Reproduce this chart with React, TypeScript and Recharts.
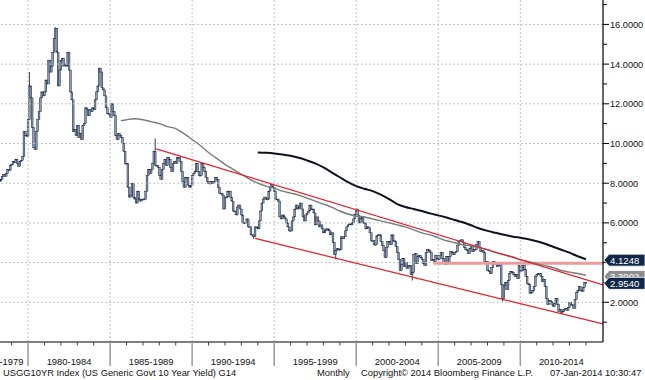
import React from 'react';
import { ComposedChart, Bar, Line, XAxis, YAxis, ReferenceLine } from 'recharts';

const FONT = '"Liberation Sans", Arial, sans-serif';

// ---- monthly closes of the 10Y yield (first year starts in May 1978) ----
const firstYear = 1978;
const firstMonth = 4; // May (0-based)
const firstOpen = 8.1;
const closesByYear: number[][] = [
  [8.2, 8.35, 8.45, 8.35, 8.5, 8.7, 8.65, 8.9],
  [8.95, 9.1, 9.05, 9.2, 9.0, 8.85, 9.1, 9.15, 9.35, 10.6, 10.4, 10.35],
  [11.2, 12.9, 12.3, 10.8, 9.8, 9.7, 10.6, 11.2, 11.6, 12.3, 12.6, 12.4],
  [12.6, 13.2, 13.0, 14.2, 13.6, 13.9, 14.6, 15.3, 15.8, 14.6, 12.9, 13.7],
  [14.2, 14.3, 13.9, 14.0, 13.9, 14.6, 13.7, 12.6, 12.2, 10.6, 10.7, 10.4],
  [10.9, 10.3, 10.5, 10.2, 10.9, 11.0, 11.8, 11.7, 11.4, 11.7, 11.6, 11.8],
  [11.7, 12.2, 12.6, 12.9, 13.8, 13.6, 12.8, 12.7, 12.4, 11.8, 11.5, 11.5],
  [11.3, 12.0, 11.6, 11.4, 10.4, 10.2, 10.5, 10.4, 10.3, 10.0, 9.6, 9.0],
  [9.0, 7.8, 7.3, 7.4, 8.0, 7.3, 7.2, 7.0, 7.6, 7.2, 7.1, 7.2],
  [7.2, 7.2, 7.6, 8.4, 8.7, 8.5, 8.7, 9.0, 9.6, 8.9, 8.9, 8.8],
  [8.4, 8.2, 8.7, 9.0, 9.2, 8.9, 9.3, 9.2, 8.8, 8.6, 9.0, 9.1],
  [9.0, 9.3, 9.3, 9.1, 8.6, 8.1, 7.8, 8.3, 8.3, 7.9, 7.8, 7.9],
  [8.4, 8.5, 8.6, 9.0, 8.6, 8.4, 8.4, 9.0, 8.8, 8.6, 8.3, 8.1],
  [8.0, 8.0, 8.1, 8.0, 8.1, 8.3, 8.2, 7.8, 7.5, 7.5, 7.4, 6.7],
  [7.3, 7.3, 7.6, 7.6, 7.3, 7.1, 6.6, 6.6, 6.4, 6.8, 6.9, 6.7],
  [6.4, 6.0, 6.0, 6.0, 6.2, 5.8, 5.8, 5.4, 5.4, 5.3, 5.8, 5.8],
  [5.7, 6.1, 6.6, 7.0, 7.2, 7.3, 7.2, 7.2, 7.6, 7.8, 7.95, 7.8],
  [7.6, 7.2, 7.2, 7.1, 6.3, 6.2, 6.4, 6.3, 6.2, 6.0, 5.8, 5.6],
  [5.6, 6.1, 6.3, 6.7, 6.9, 6.7, 6.8, 7.0, 6.7, 6.3, 6.1, 6.4],
  [6.5, 6.6, 6.9, 6.7, 6.7, 6.5, 5.9, 6.3, 6.1, 5.8, 5.9, 5.7],
  [5.5, 5.6, 5.7, 5.7, 5.6, 5.4, 5.5, 5.0, 4.4, 4.6, 4.7, 4.65],
  [4.65, 5.3, 5.2, 5.3, 5.6, 5.8, 5.9, 5.95, 5.9, 6.0, 6.2, 6.45],
  [6.7, 6.4, 6.0, 6.2, 6.3, 6.0, 6.0, 5.7, 5.8, 5.75, 5.5, 5.1],
  [5.1, 4.9, 4.9, 5.35, 5.4, 5.4, 5.05, 4.85, 4.6, 4.25, 4.75, 5.05],
  [5.05, 4.9, 5.4, 5.1, 5.05, 4.8, 4.5, 4.15, 3.6, 3.9, 4.2, 3.8],
  [4.0, 3.7, 3.8, 3.85, 3.4, 3.5, 4.4, 4.45, 3.95, 4.3, 4.35, 4.25],
  [4.15, 3.95, 3.85, 4.5, 4.65, 4.6, 4.5, 4.1, 4.15, 4.05, 4.35, 4.2],
  [4.15, 4.35, 4.5, 4.2, 4.0, 3.9, 4.3, 4.0, 4.3, 4.55, 4.5, 4.4],
  [4.5, 4.55, 4.85, 5.05, 5.1, 5.15, 5.0, 4.75, 4.65, 4.6, 4.45, 4.7],
  [4.85, 4.55, 4.65, 4.65, 4.9, 5.05, 4.75, 4.55, 4.6, 4.5, 3.95, 4.05],
  [3.6, 3.55, 3.45, 3.75, 4.05, 3.95, 3.95, 3.8, 3.85, 4.0, 2.9, 2.2],
  [2.85, 3.0, 2.65, 3.1, 3.45, 3.55, 3.5, 3.4, 3.3, 3.4, 3.2, 3.85],
  [3.6, 3.6, 3.85, 3.65, 3.3, 2.95, 2.9, 2.45, 2.5, 2.6, 2.8, 3.3],
  [3.4, 3.45, 3.45, 3.3, 3.05, 3.15, 2.8, 2.2, 1.9, 2.1, 2.05, 1.9],
  [1.8, 1.95, 2.2, 1.9, 1.55, 1.65, 1.5, 1.55, 1.65, 1.7, 1.6, 1.75],
  [2.0, 1.9, 1.85, 1.7, 2.15, 2.5, 2.6, 2.8, 2.6, 2.55, 2.75, 3.0],
  [2.954],
];

// intramonth extremes (wicks) visible in the picture
const spikeMonths = ['1980-02', '1981-09', '1987-10', '1993-10', '1998-10', '2003-06', '2008-12', '2012-07'];
const spikeValues = [13.6, 15.85, 10.25, 5.2, 4.16, 3.1, 2.05, 1.4];

// moving averages (100-month grey, 200-month black)
const ma100Times = [1985.65, 1986, 1986.5, 1987, 1987.5, 1988, 1988.5, 1989, 1989.5, 1990, 1990.5, 1991, 1991.5, 1992, 1992.5, 1993, 1993.5, 1994, 1994.5, 1995, 1995.5, 1996, 1996.5, 1997, 1997.5, 1998, 1998.5, 1999, 1999.5, 2000, 2000.5, 2001, 2001.5, 2002, 2002.5, 2003, 2003.5, 2004, 2004.5, 2005, 2005.5, 2006, 2006.5, 2007, 2007.5, 2008, 2008.5, 2009, 2009.5, 2010, 2010.5, 2011, 2011.5, 2012, 2012.5, 2013, 2013.5, 2014];
const ma100Values = [11.15, 11.2, 11.25, 11.2, 11.1, 11.0, 10.85, 10.75, 10.5, 10.2, 9.9, 9.55, 9.25, 8.95, 8.7, 8.45, 8.2, 8.0, 7.85, 7.75, 7.6, 7.5, 7.4, 7.25, 7.1, 6.95, 6.8, 6.6, 6.45, 6.35, 6.3, 6.2, 6.1, 6.0, 5.9, 5.8, 5.65, 5.5, 5.4, 5.25, 5.1, 5.0, 4.9, 4.85, 4.75, 4.65, 4.5, 4.4, 4.3, 4.15, 4.05, 3.95, 3.85, 3.75, 3.6, 3.52, 3.45, 3.36];
const ma200Times = [1994, 1994.5, 1995, 1995.5, 1996, 1996.5, 1997, 1997.5, 1998, 1998.5, 1999, 1999.5, 2000, 2000.5, 2001, 2001.5, 2002, 2002.5, 2003, 2003.5, 2004, 2004.5, 2005, 2005.5, 2006, 2006.5, 2007, 2007.5, 2008, 2008.5, 2009, 2009.5, 2010, 2010.5, 2011, 2011.5, 2012, 2012.5, 2013, 2013.5, 2014];
const ma200Values = [9.55, 9.53, 9.5, 9.45, 9.38, 9.28, 9.15, 9.0, 8.8, 8.55, 8.3, 8.05, 7.85, 7.72, 7.6, 7.42, 7.2, 6.95, 6.8, 6.7, 6.6, 6.48, 6.38, 6.27, 6.15, 6.03, 5.88, 5.72, 5.6, 5.5, 5.4, 5.32, 5.25, 5.18, 5.08, 4.95, 4.8, 4.65, 4.5, 4.32, 4.17];

// drawn trend lines (start/end in years and yield)
const upperTrend = [{ t: 1987.81, v: 9.73 }, { t: 2015.04, v: 2.88 }];
const lowerTrend = [{ t: 1993.84, v: 5.22 }, { t: 2015.04, v: 0.91 }];
const levelLine = [{ t: 2004.7, v: 3.97 }, { t: 2015.04, v: 3.97 }];

// axes
const xDomain = [1978.29, 2015.04];
const yDomain = [0, 17.23];
const spanStarts = [1975, 1980, 1985, 1990, 1995, 2000, 2005, 2010];
const spanLabels = ['1975-1979', '1980-1984', '1985-1989', '1990-1994', '1995-1999', '2000-2004', '2005-2009', '2010-2014'];
const yearTicks = [1979, 1980, 1981, 1982, 1983, 1984, 1985, 1986, 1987, 1988, 1989, 1990, 1991, 1992, 1993, 1994, 1995, 1996, 1997, 1998, 1999, 2000, 2001, 2002, 2003, 2004, 2005, 2006, 2007, 2008, 2009, 2010, 2011, 2012, 2013, 2014];
const gridYears = [1980, 1985, 1990, 1995, 2000, 2005, 2010];
const yTickValues = [1, 2, 3, 4, 5, 6, 7, 8, 9, 10, 11, 12, 13, 14, 15, 16, 17];
const gridValues = [2, 4, 6, 8, 10, 12, 14, 16];
const tagValues = [3.3002, 4.1248, 2.954];
const tagTexts = ['3.3002', '4.1248', '2.9540'];
const tagFills = ['#8e8e8e', '#0f2748', '#0f2748'];

// ---- build rows ----
const rows: any[] = [];
let prev = firstOpen;
closesByYear.forEach((arr, yi) => {
  const year = firstYear + yi;
  arr.forEach((c, mi) => {
    const m = yi === 0 ? firstMonth + mi : mi;
    const key = `${year}-${String(m + 1).padStart(2, '0')}`;
    const si = spikeMonths.indexOf(key);
    let lo = Math.min(prev, c);
    let hi = Math.max(prev, c);
    if (si >= 0) {
      lo = Math.min(lo, spikeValues[si]);
      hi = Math.max(hi, spikeValues[si]);
    }
    rows.push({ t: year + m / 12, open: prev, close: c, range: [lo, hi] });
    prev = c;
  });
});

const ma100 = ma100Times.map((t, i) => ({ t, v: ma100Values[i] }));
const ma200 = ma200Times.map((t, i) => ({ t, v: ma200Values[i] }));

const labelCenters = spanStarts.map((s) => Math.max(s + 2.5, xDomain[0] + 0.06));
const xTicks = [...yearTicks, ...labelCenters];

function Candle(props: any) {
  let { x, y, width, height, payload } = props;
  if (height < 0) {
    y = y + height;
    height = -height;
  }
  const [lo, hi] = payload.range;
  const k = hi > lo ? height / (hi - lo) : 0;
  const bTop = y + (hi - Math.max(payload.open, payload.close)) * k;
  const bBot = y + (hi - Math.min(payload.open, payload.close)) * k;
  const cx = x + width / 2;
  return (
    <g>
      <line x1={cx} x2={cx} y1={y} y2={y + height} stroke="#15223a" strokeWidth={0.9} />
      <rect x={cx - 0.9} y={bTop} width={1.8} height={Math.max(bBot - bTop, 0.8)} fill="#8a99b0" stroke="#15223a" strokeWidth={0.45} />
    </g>
  );
}

function XTick(props: any) {
  const { x, y, payload } = props;
  const v = payload.value;
  if (Number.isInteger(v)) {
    if (v % 5 === 0) {
      return <line x1={x} x2={x} y1={y} y2={y + 24} stroke="#9a9a9a" strokeWidth={1.5} />;
    }
    return <line x1={x} x2={x} y1={y} y2={y + 3.5} stroke="#444" strokeWidth={1} />;
  }
  const i = labelCenters.findIndex((c) => Math.abs(c - v) < 1e-6);
  if (i < 0) return null;
  return (
    <text x={x} y={y + 23} textAnchor="middle" fontFamily={FONT} fontSize={9.4} fill="#111">
      {spanLabels[i]}
    </text>
  );
}

function YTick(props: any) {
  const { x, y, payload } = props;
  const v = payload.value;
  const ti = tagValues.indexOf(v);
  if (ti >= 0) {
    const h = 12;
    return (
      <g>
        <polygon
          points={`${x + 1},${y} ${x + 6},${y - h / 2} ${x + 42},${y - h / 2} ${x + 42},${y + h / 2} ${x + 6},${y + h / 2}`}
          fill={tagFills[ti]}
          stroke="#ffffff"
          strokeWidth={0.8}
        />
        <text x={x + 7} y={y + 3.5} fontFamily={FONT} fontSize={9.6} fill="#ffffff">
          {tagTexts[ti]}
        </text>
      </g>
    );
  }
  const major = v % 2 === 0;
  return (
    <g>
      <line x1={x} x2={x + (major ? 6 : 4)} y1={y} y2={y} stroke="#000" strokeWidth={1} />
      {major && v !== 4 ? (
        <text x={x + 7} y={y + 3.4} fontFamily={FONT} fontSize={9.2} fill="#111">
          {v.toFixed(4)}
        </text>
      ) : null}
    </g>
  );
}

const footStyle: React.CSSProperties = { position: 'absolute', top: 368, fontSize: 9.35, color: '#111', whiteSpace: 'nowrap', lineHeight: '11px' };

export default function App() {
  return (
    <div style={{ position: 'absolute', left: 0, top: 0, width: 645, height: 380, background: '#fff', fontFamily: FONT, overflow: 'hidden' }}>
      <ComposedChart width={645} height={380} data={rows} margin={{ top: 0, right: 0, bottom: 0, left: 0 }}>
        <XAxis
          type="number"
          dataKey="t"
          domain={xDomain}
          allowDataOverflow
          ticks={xTicks}
          interval={0}
          tick={<XTick />}
          tickLine={false}
          tickSize={0}
          tickMargin={0}
          axisLine={{ stroke: '#000', strokeWidth: 1 }}
          height={38}
        />
        <YAxis
          orientation="right"
          type="number"
          domain={yDomain}
          allowDataOverflow
          ticks={[...yTickValues, ...tagValues]}
          interval={0}
          tick={<YTick />}
          tickLine={false}
          tickSize={0}
          tickMargin={0}
          axisLine={{ stroke: '#000', strokeWidth: 1.2 }}
          width={42}
        />
        {gridYears.map((g) => (
          <ReferenceLine key={'gx' + g} x={g} stroke="#c2c2c2" strokeDasharray="2 2" />
        ))}
        {gridValues.map((g) => (
          <ReferenceLine key={'gy' + g} y={g} stroke="#c2c2c2" strokeDasharray="2 2" />
        ))}
        <Line data={levelLine} dataKey="v" stroke="#ec9c9c" strokeWidth={3} dot={false} activeDot={false} isAnimationActive={false} type="linear" />
        <Line data={ma200} dataKey="v" stroke="#0c1222" strokeWidth={2} dot={false} activeDot={false} isAnimationActive={false} type="monotone" />
        <Line data={ma100} dataKey="v" stroke="#7a7a7a" strokeWidth={1.4} dot={false} activeDot={false} isAnimationActive={false} type="monotone" />
        <Bar dataKey="range" barSize={2} shape={<Candle />} isAnimationActive={false} />
        <Line data={upperTrend} dataKey="v" stroke="#e3202a" strokeWidth={1.2} dot={false} activeDot={false} isAnimationActive={false} type="linear" />
        <Line data={lowerTrend} dataKey="v" stroke="#e3202a" strokeWidth={1.2} dot={false} activeDot={false} isAnimationActive={false} type="linear" />
      </ComposedChart>
      <div style={{ ...footStyle, left: 3 }}>USGG10YR Index (US Generic Govt 10 Year Yield) G14</div>
      <div style={{ ...footStyle, left: 317 }}>Monthly</div>
      <div style={{ ...footStyle, left: 361 }}>Copyright© 2014 Bloomberg Finance L.P.</div>
      <div style={{ ...footStyle, left: 550 }}>07-Jan-2014 10:30:47</div>
    </div>
  );
}
